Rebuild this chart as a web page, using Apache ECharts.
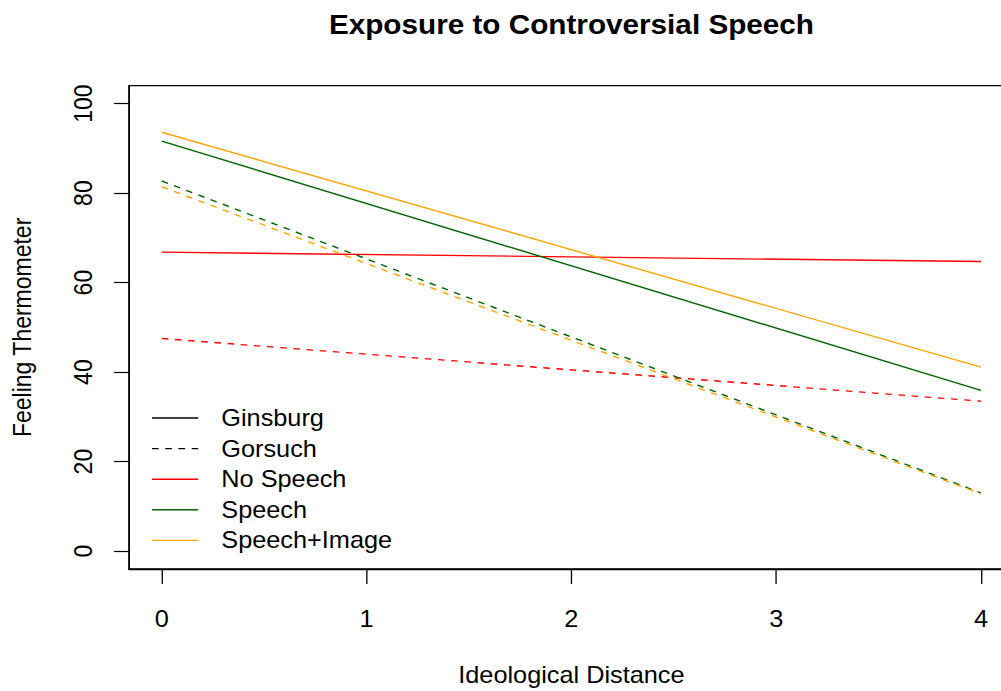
<!DOCTYPE html>
<html>
<head>
<meta charset="utf-8">
<script src="https://cdn.jsdelivr.net/npm/echarts@6/dist/echarts.min.js"></script>
<style>
  html, body { margin: 0; padding: 0; background: #fff; overflow: hidden; width: 1001px; height: 691px; }
  /* the plot is laid out a little narrower and widened to fill the page */
  #chart { width: 940px; height: 691px; transform: scaleX(1.1); transform-origin: 0 0; }
</style>
</head>
<body>
<div id="chart"></div>
<script>
// Ideological distance endpoints
var distance = [0, 4];
var xTicks = [0, 1, 2, 3, 4];
var yTicks = [0, 20, 40, 60, 80, 100];

// Fitted feeling thermometer at distance 0 and 4
var noSpeechGinsburg = [66.8, 64.7];
var noSpeechGorsuch = [47.5, 33.5];
var speechGinsburg = [91.6, 35.9];
var speechGorsuch = [82.7, 13.0];
var speechImageGinsburg = [93.6, 41.1];
var speechImageGorsuch = [81.4, 12.8];

var legendNames = ['Ginsburg', 'Gorsuch', 'No Speech', 'Speech', 'Speech+Image'];

var FONT = "'Liberation Sans', Arial, Helvetica, sans-serif";
var RED = '#FF0000', GREEN = '#006400', ORANGE = '#FFA500';

function pts(vals) {
  return distance.map(function (d, i) { return [d, vals[i]]; });
}

function lineSeries(name, vals, color, dashed) {
  return {
    name: name,
    type: 'line',
    data: pts(vals),
    symbol: 'none',
    silent: true,
    animation: false,
    lineStyle: { color: color, width: 1.4, type: dashed ? [6, 6] : 'solid' },
    itemStyle: { color: color }
  };
}

var chart = echarts.init(document.getElementById('chart'), null, { renderer: 'svg' });

chart.setOption({
  animation: false,
  textStyle: { fontFamily: FONT },
  graphic: [{
    type: 'text',
    x: 519.5,
    y: 11,
    style: {
      text: 'Exposure to Controversial Speech',
      font: 'bold 27px ' + FONT,
      fill: '#000',
      textAlign: 'center',
      textVerticalAlign: 'top'
    }
  }],
  grid: {
    left: 117.3,
    top: 85.7,
    width: 804.3,
    height: 485.6,
    show: true,
    borderColor: '#000',
    borderWidth: 1.3,
    backgroundColor: 'transparent'
  },
  legend: {
    orient: 'vertical',
    left: 132.5,
    top: 401.5,
    itemWidth: 42,
    itemHeight: 14,
    itemGap: 7.6,
    selectedMode: false,
    data: legendNames,
    itemStyle: { opacity: 0 },
    lineStyle: { width: 1.4 },
    textStyle: { fontFamily: FONT, fontSize: 23, color: '#000', lineHeight: 23, padding: [0, 0, 0, 16] }
  },
  xAxis: {
    type: 'value',
    min: -0.16,
    max: 4.16,
    name: 'Ideological Distance',
    nameLocation: 'middle',
    nameGap: 94,
    nameTextStyle: { fontFamily: FONT, fontSize: 23, color: '#000' },
    axisLine: { show: true, onZero: false, lineStyle: { color: '#000', width: 1.3 } },
    axisTick: { show: true, inside: false, customValues: xTicks, length: 15, lineStyle: { color: '#000', width: 1.2 } },
    axisLabel: { customValues: xTicks, margin: 38, fontFamily: FONT, fontSize: 23, color: '#000' },
    splitLine: { show: false }
  },
  yAxis: {
    type: 'value',
    min: -4,
    max: 104,
    name: 'Feeling Thermometer',
    nameLocation: 'middle',
    nameGap: 86,
    nameRotate: 90,
    nameTextStyle: { fontFamily: FONT, fontSize: 23, color: '#000' },
    axisLine: { show: true, onZero: false, lineStyle: { color: '#000', width: 1.3 } },
    axisTick: { show: true, inside: false, customValues: yTicks, length: 13.6, lineStyle: { color: '#000', width: 1.2 } },
    axisLabel: { customValues: yTicks, rotate: 90, margin: 30, fontFamily: FONT, fontSize: 23, color: '#000' },
    splitLine: { show: false }
  },
  series: [
    lineSeries('Ginsburg', [], '#000', false),
    lineSeries('Gorsuch', [], '#000', true),
    lineSeries('No Speech', noSpeechGinsburg, RED, false),
    lineSeries('No Speech (Gorsuch)', noSpeechGorsuch, RED, true),
    lineSeries('Speech', speechGinsburg, GREEN, false),
    lineSeries('Speech (Gorsuch)', speechGorsuch, GREEN, true),
    lineSeries('Speech+Image', speechImageGinsburg, ORANGE, false),
    lineSeries('Speech+Image (Gorsuch)', speechImageGorsuch, ORANGE, true)
  ]
});
</script>
</body>
</html>
